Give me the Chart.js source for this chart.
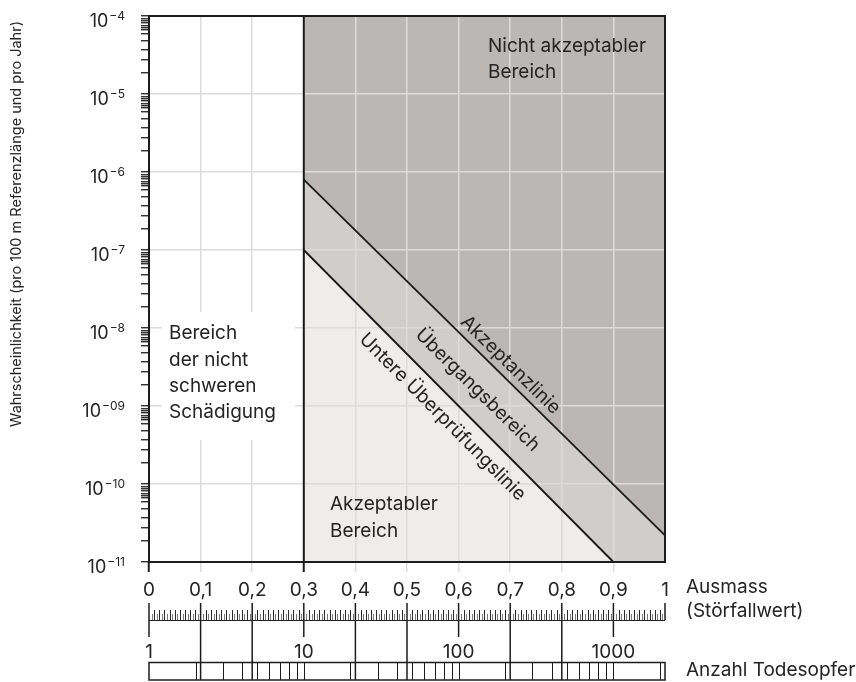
<!DOCTYPE html>
<html lang="de">
<head>
<meta charset="utf-8">
<title>Wahrscheinlichkeit und Ausmass</title>
<script src="https://cdn.jsdelivr.net/npm/chart.js@4.4.1/dist/chart.umd.min.js"></script>
<style>
  html, body { margin: 0; padding: 0; background: #fff; }
  #wrap { width: 856px; height: 682px; }
</style>
</head>
<body>
<div id="wrap"><canvas id="chart"></canvas></div>
<script>
// Werte
const ausmassTicks = [0, 0.1, 0.2, 0.3, 0.4, 0.5, 0.6, 0.7, 0.8, 0.9, 1];
const dekaden = [1e-4, 1e-5, 1e-6, 1e-7, 1e-8, 1e-9, 1e-10, 1e-11];
const exponenten = ['−4', '−5', '−6', '−7', '−8', '−09', '−10', '−11'];
const zwischenMantissen = [1.9, 2.75, 3.65, 4.8, 5.9, 6.6, 7.1, 7.6, 8.15, 8.7, 9.3];

const akzeptanzX = [0.3, 1];
const akzeptanzY = [8e-7, 2.2e-11];
const ueberpruefX = [0.3, 0.9];
const ueberpruefY = [1e-7, 1e-11];
const grenzeX = [0.3, 0.3];
const grenzeY = [1e-11, 1e-4];

const todesopferMax = 2154;
const todesopferTeilung = [2, 3, 4, 5, 6, 7, 8, 9, 10, 20, 30, 40, 50, 60, 70, 80, 90,
  100, 200, 300, 400, 500, 600, 700, 800, 900, 1000, 2000];
const todesopferLabels = [1, 10, 100, 1000];

const FONT = 'Inter, "Noto Sans", sans-serif';
const TEXT = '#242424';
const GRID = '#dddcdb';

const pts = (xs, ys) => xs.map((x, i) => ({ x: x, y: ys[i] }));

function textAt(ctx, str, x, y, size, align) {
  ctx.font = size + 'px ' + FONT;
  ctx.textAlign = align || 'left';
  ctx.fillText(str, x, y);
}

// rotated label along a line, offset perpendicular to it
function labelOnLine(chart, xs, ys, atX, offset, str) {
  const sx = chart.scales.x, sy = chart.scales.y, ctx = chart.ctx;
  const x0 = sx.getPixelForValue(xs[0]), y0 = sy.getPixelForValue(ys[0]);
  const x1 = sx.getPixelForValue(xs[1]), y1 = sy.getPixelForValue(ys[1]);
  const px = sx.getPixelForValue(atX);
  const py = y0 + (px - x0) / (x1 - x0) * (y1 - y0);
  ctx.save();
  ctx.translate(px, py);
  ctx.rotate(Math.atan2(y1 - y0, x1 - x0));
  ctx.font = '19px ' + FONT;
  ctx.textAlign = 'center';
  ctx.textBaseline = 'middle';
  ctx.fillText(str, 0, offset);
  ctx.restore();
}

const overlay = {
  id: 'overlay',
  beforeDatasetDraw(chart, args) {
    if (chart.data.datasets[args.index].overlay) return false;
  },
  afterDraw(chart) {
    const { ctx, chartArea: a, scales } = chart;
    const sx = scales.x, sy = scales.y, st = scales.xTodesopfer;
    const b = a.bottom;

    // weisser Grund hinter dem Text links
    ctx.fillStyle = '#fff';
    ctx.fillRect(a.left + 13, a.top + 296, 133, 128);

    // schwarze Linien über dem Gitter
    chart.data.datasets.forEach((ds, i) => {
      if (ds.overlay) chart.getDatasetMeta(i).controller.draw();
    });

    // Rahmen
    ctx.strokeStyle = '#1c1c1c';
    ctx.lineWidth = 2;
    ctx.strokeRect(a.left, a.top, a.right - a.left, a.bottom - a.top);

    ctx.fillStyle = TEXT;
    ctx.textBaseline = 'alphabetic';

    // y-Beschriftung mit Hochzahl
    dekaden.forEach((d, i) => {
      const py = sy.getPixelForValue(d);
      ctx.font = '12px ' + FONT;
      const w = ctx.measureText(exponenten[i]).width;
      textAt(ctx, exponenten[i], a.left - 24, py + 4, 12, 'right');
      textAt(ctx, '10', a.left - 25 - w, py + 10.5, 18, 'right');
    });

    // Achsentitel
    ctx.save();
    ctx.translate(17, 224);
    ctx.rotate(-Math.PI / 2);
    ctx.font = '14.5px ' + FONT;
    ctx.textAlign = 'center';
    ctx.textBaseline = 'middle';
    ctx.fillText('Wahrscheinlichkeit (pro 100 m Referenzlänge und pro Jahr)', 0, 0);
    ctx.restore();

    // Bereichstexte
    textAt(ctx, 'Nicht akzeptabler', a.left + 339, a.top + 36, 19);
    textAt(ctx, 'Bereich', a.left + 339, a.top + 62.3, 19);
    ['Bereich', 'der nicht', 'schweren', 'Schädigung'].forEach((s, i) => {
      textAt(ctx, s, a.left + 20, a.top + 323.3 + i * 26.3, 19);
    });
    textAt(ctx, 'Akzeptabler', a.left + 181, b - 52, 19);
    textAt(ctx, 'Bereich', a.left + 181, b - 25.5, 19);

    labelOnLine(chart, akzeptanzX, akzeptanzY, 0.683, -13, 'Akzeptanzlinie');
    labelOnLine(chart, akzeptanzX, akzeptanzY, 0.675, 28, 'Übergangsbereich');
    labelOnLine(chart, ueberpruefX, ueberpruefY, 0.595, 19, 'Untere Überprüfungslinie');

    // Massstab Ausmass
    const x0 = sx.getPixelForValue(0), x1 = sx.getPixelForValue(1);
    ctx.strokeStyle = '#222';
    ctx.lineWidth = 1.2;
    ctx.beginPath();
    ctx.moveTo(x0, b + 58.5); ctx.lineTo(x1, b + 58.5);
    ctx.stroke();
    for (let i = 1; i < 200; i++) {
      if (i % 20 === 0) continue;
      const px = Math.round(sx.getPixelForValue(i * 0.005)) + 0.5;
      ctx.strokeStyle = i % 2 === 0 ? '#2a2a2a' : '#7a7a7a';
      ctx.lineWidth = 1;
      ctx.beginPath();
      ctx.moveTo(px, b + (i % 2 === 0 ? 48 : 52));
      ctx.lineTo(px, b + 58);
      ctx.stroke();
    }
    const dekadenPx = todesopferLabels.map(n => st.getPixelForValue(n));
    ctx.strokeStyle = '#1c1c1c';
    ctx.lineWidth = 1.5;
    ausmassTicks.forEach(v => {
      const px = sx.getPixelForValue(v);
      const isDek = dekadenPx.some(p => Math.abs(p - px) < 1.5);
      const end = isDek ? 75 : (v === 1 ? 58 : 118);
      ctx.beginPath();
      ctx.moveTo(px, b + 41); ctx.lineTo(px, b + end);
      ctx.stroke();
    });

    // Massstab Todesopfer
    const t0 = st.getPixelForValue(1), t1 = st.getPixelForValue(todesopferMax);
    ctx.lineWidth = 1.5;
    ctx.strokeRect(t0, b + 100.5, t1 - t0, 17.5);
    ctx.lineWidth = 1;
    todesopferTeilung.forEach(n => {
      const px = Math.round(st.getPixelForValue(n)) + 0.5;
      ctx.beginPath();
      ctx.moveTo(px, b + 100); ctx.lineTo(px, b + 118);
      ctx.stroke();
    });
    ctx.textBaseline = 'middle';
    todesopferLabels.forEach((n, i) => {
      textAt(ctx, String(n), dekadenPx[i], b + 90, 19, 'center');
    });

    // Legendentexte rechts
    textAt(ctx, 'Ausmass', a.right + 21, b + 25, 19);
    textAt(ctx, '(Störfallwert)', a.right + 21, b + 49, 19);
    textAt(ctx, 'Anzahl Todesopfer', a.right + 21, b + 108, 19);
  }
};

new Chart(document.getElementById('chart'), {
  type: 'line',
  data: {
    datasets: [
      { label: 'Akzeptanzlinie', data: pts(akzeptanzX, akzeptanzY), overlay: true,
        borderColor: '#1a1a1a', borderWidth: 1.8, pointRadius: 0, fill: false, order: 0 },
      { label: 'Untere Überprüfungslinie', data: pts(ueberpruefX, ueberpruefY), overlay: true,
        borderColor: '#1a1a1a', borderWidth: 1.8, pointRadius: 0, fill: false, order: 1 },
      { label: 'Grenze', data: pts(grenzeX, grenzeY), overlay: true,
        borderColor: '#1a1a1a', borderWidth: 2, pointRadius: 0, fill: false, order: 2 },
      { label: 'Nicht akzeptabler Bereich', data: pts(akzeptanzX, akzeptanzY),
        borderColor: 'transparent', backgroundColor: '#bbb7b4', pointRadius: 0, fill: 'end', order: 4 },
      { label: 'Übergangsbereich', data: pts(akzeptanzX, akzeptanzY),
        borderColor: 'transparent', backgroundColor: '#d0cecb', pointRadius: 0, fill: 'start', order: 6 },
      { label: 'Akzeptabler Bereich', data: pts(ueberpruefX, ueberpruefY),
        borderColor: 'transparent', backgroundColor: '#eeedeb', pointRadius: 0, fill: 'start', order: 5 }
    ]
  },
  options: {
    responsive: true,
    maintainAspectRatio: false,
    animation: false,
    layout: { padding: { left: 0, right: 191, top: 16, bottom: 0 } },
    plugins: { legend: { display: false }, tooltip: { enabled: false } },
    scales: {
      x: {
        type: 'linear', min: 0, max: 1,
        afterBuildTicks: s => { s.ticks = ausmassTicks.map(v => ({ value: v })); },
        afterFit: s => { s.height = 120; },
        border: { display: false },
        grid: {
          z: 1, lineWidth: 1.5, tickLength: 10,
          color: GRID,
          tickColor: c => (c.tick.value === 0 || c.tick.value === 0.3) ? '#1c1c1c'
            : (c.tick.value === 1 ? 'transparent' : GRID),
          tickWidth: c => (c.tick.value === 0 || c.tick.value === 0.3) ? 2 : 1.5
        },
        ticks: {
          padding: 7, color: TEXT, autoSkip: false, maxRotation: 0,
          font: { family: FONT, size: 19 },
          callback: v => String(v).replace('.', ',')
        }
      },
      xTodesopfer: {
        type: 'logarithmic', position: 'bottom', display: false,
        min: 1, max: todesopferMax
      },
      y: {
        type: 'logarithmic', min: 1e-11, max: 1e-4,
        afterBuildTicks: s => {
          const t = dekaden.map(d => ({ value: d, major: true }));
          dekaden.slice(1).forEach(d => {
            zwischenMantissen.forEach(m => t.push({ value: m * d, major: false }));
          });
          s.ticks = t.sort((p, q) => p.value - q.value);
        },
        afterFit: s => { s.width = 149; },
        border: { display: false },
        grid: {
          z: 1, lineWidth: 1.5, tickLength: 8,
          color: c => (c.tick && c.tick.major) ? GRID : 'transparent',
          tickColor: '#1c1c1c', tickWidth: 1.3
        },
        ticks: { display: false, autoSkip: false }
      }
    }
  },
  plugins: [overlay]
});
</script>
</body>
</html>
